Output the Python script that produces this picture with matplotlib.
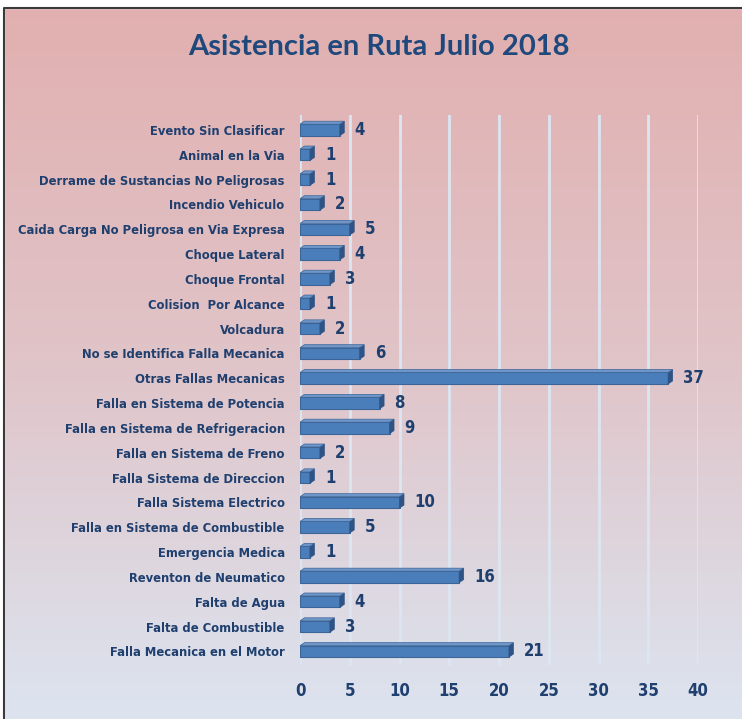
import matplotlib
matplotlib.use("Agg")
import matplotlib.pyplot as plt
import numpy as np
from matplotlib.patches import Polygon, Rectangle

categories = [
    "Evento Sin Clasificar",
    "Animal en la Via",
    "Derrame de Sustancias No Peligrosas",
    "Incendio Vehiculo",
    "Caida Carga No Peligrosa en Via Expresa",
    "Choque Lateral",
    "Choque Frontal",
    "Colision  Por Alcance",
    "Volcadura",
    "No se Identifica Falla Mecanica",
    "Otras Fallas Mecanicas",
    "Falla en Sistema de Potencia",
    "Falla en Sistema de Refrigeracion",
    "Falla en Sistema de Freno",
    "Falla Sistema de Direccion",
    "Falla Sistema Electrico",
    "Falla en Sistema de Combustible",
    "Emergencia Medica",
    "Reventon de Neumatico",
    "Falta de Agua",
    "Falta de Combustible",
    "Falla Mecanica en el Motor",
]
values = [4, 1, 1, 2, 5, 4, 3, 1, 2, 6, 37, 8, 9, 2, 1, 10, 5, 1, 16, 4, 3, 21]
xticks = [0, 5, 10, 15, 20, 25, 30, 35, 40]
title = "Asistencia en Ruta Julio 2018"

W, H = 742, 719
fig = plt.figure(figsize=(W / 100, H / 100), dpi=100)

bg = fig.add_axes([0, 0, 1, 1], zorder=0)
top = np.array([226, 175, 175]) / 255
mid = np.array([224, 196, 200]) / 255
bot = np.array([220, 228, 240]) / 255
t = np.linspace(0, 1, 256)[:, None]
grad = np.where(t < 0.5, top + (mid - top) * (t / 0.5), mid + (bot - mid) * ((t - 0.5) / 0.5))
bg.imshow(grad[:, None, :].repeat(2, axis=1), aspect="auto", extent=[0, 1, 0, 1], origin="upper")
bg.set_xlim(0, 1)
bg.set_ylim(0, 1)
bg.axis("off")
bg.add_patch(Rectangle((0, 1 - 8 / H), 1, 8 / H, color="white", zorder=2))
bg.add_patch(Rectangle((0, 0), 4 / W, 1, color="white", zorder=2))
bg.plot([4 / W, 4 / W, 1], [0, 1 - 8 / H, 1 - 8 / H], color="#3a3a3a", lw=1.5, zorder=3)

fig.text(379 / W, 1 - 47 / H, title, ha="center", va="center", fontsize=21,
         fontweight="bold", color="#1F497D", family=["Lato", "DejaVu Sans"])

x0, x1 = 300 / W, 698 / W
y_top, y_bot = 1 - 115 / H, 1 - 665 / H
ax = fig.add_axes([x0, y_bot, x1 - x0, y_top - y_bot], zorder=1)
ax.patch.set_alpha(0)
n = len(categories)
ypos = np.arange(n)[::-1]
ax.set_xlim(0, 40)
ax.set_ylim(-0.55, n - 1 + 0.6)

for xv in xticks:
    ax.axvline(xv, color="#DCE6F2", lw=2, zorder=1)

font = ["DejaVu Sans"]
fs_kw = dict(fontstretch="condensed")
bh = 0.46
face = "#4A7EBB"
side = "#2F5385"
ax.barh(ypos, values, height=bh, color=face, edgecolor="#3B6497", lw=0.8, zorder=3)
dx, dy = 0.45, 0.12
for y, v in zip(ypos, values):
    poly = Polygon([[v, y - bh / 2], [v + dx, y - bh / 2 + dy], [v + dx, y + bh / 2 + dy], [v, y + bh / 2]],
                   closed=True, facecolor=side, edgecolor=side, lw=0.5, zorder=3)
    ax.add_patch(poly)
    toppoly = Polygon([[0, y + bh / 2], [dx, y + bh / 2 + dy], [v + dx, y + bh / 2 + dy], [v, y + bh / 2]],
                      closed=True, facecolor="#6F96C8", edgecolor="#3B6497", lw=0.5, zorder=3)
    ax.add_patch(toppoly)
    ax.text(v + 1.5, y, str(v), ha="left", va="center", fontsize=12, fontweight="bold",
            color="#1F3F6F", family=font, zorder=4, **fs_kw)

ax.set_yticks(ypos)
ax.set_yticklabels(categories, fontsize=9.3, fontweight="bold", color="#1F3F6F", family=font, **fs_kw)
ax.set_xticks(xticks)
ax.set_xticklabels([str(x) for x in xticks], fontsize=12, fontweight="bold", color="#1F3F6F", family=font, **fs_kw)
ax.tick_params(axis="y", length=0, pad=11)
ax.tick_params(axis="x", length=0, pad=12)
for s in ax.spines.values():
    s.set_visible(False)

fig.savefig("out.png", dpi=100)
